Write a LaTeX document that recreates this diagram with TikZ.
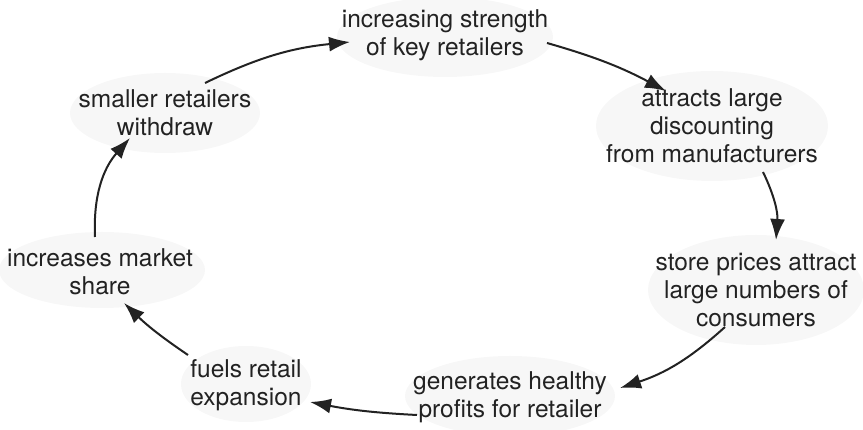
\documentclass[tikz,border=0pt]{standalone}
\usepackage{fontspec}
\setmainfont{TeX Gyre Heros}
\usetikzlibrary{arrows.meta,shapes.geometric}
\definecolor{inkgray}{HTML}{222222}
\definecolor{bubblegray}{HTML}{F7F7F7}
\tikzset{
  bubble/.style={ellipse, fill=bubblegray, draw=none, inner sep=0pt},
  label text/.style={align=center, inner sep=0pt, text=inkgray,
    font=\fontsize{24.5}{28}\selectfont},
  flow/.style={draw=inkgray, line width=2pt,
    -{Latex[length=21pt,width=15pt]}},
}
\begin{document}
\begin{tikzpicture}[x=1pt,y=1pt]
\useasboundingbox (0,0) rectangle (863,430);

% soft backgrounds behind each stage
\node[bubble, minimum width=216, minimum height=80]  (e1) at (445,393) {};
\node[bubble, minimum width=232, minimum height=110] (e2) at (712,304) {};
\node[bubble, minimum width=216, minimum height=110] (e3) at (756,140) {};
\node[bubble, minimum width=210, minimum height=80]  (e4) at (510,34) {};
\node[bubble, minimum width=130, minimum height=76]  (e5) at (246,46) {};
\node[bubble, minimum width=206, minimum height=76]  (e6) at (102,160) {};
\node[bubble, minimum width=190, minimum height=80]  (e7) at (165,317) {};

% stage texts
\node[label text] (t1) at (445,395) {increasing strength\\of key retailers};
\node[label text] (t2) at (712,304) {attracts large\\discounting\\from manufacturers};
\node[label text] (t3) at (756,140) {store prices attract\\large numbers of\\consumers};
\node[label text] (t4) at (510,33)  {generates healthy\\profits for retailer};
\node[label text] (t5) at (246,45)  {fuels retail\\expansion};
\node[label text] (t6) at (100,158) {increases market\\share};
\node[label text] (t7) at (165,317) {smaller retailers\\withdraw};

% the cycle, running clockwise
\draw[flow] ([shift={(40,30)}]t7.center)  to[bend left=10] ([shift={(-95,-7)}]t1.center);
\draw[flow] ([shift={(102,-8)}]t1.center) to[bend left=6]  ([shift={(-46,35)}]t2.center);
\draw[flow] ([shift={(51,-46)}]t2.center) to[bend left=15] ([shift={(20,50)}]t3.center);
\draw[flow] ([shift={(-31,-37)}]t3.center) to[bend left=12] ([shift={(110,9)}]t4.center);
\draw[flow] ([shift={(-93,-18)}]t4.center) to[bend left=4] ([shift={(64,-17)}]t5.center);
\draw[flow] ([shift={(-58,30)}]t5.center) to[bend left=5]  ([shift={(24,-31)}]t6.center);
\draw[flow] ([shift={(-5,35)}]t6.center)  to[bend left=22] ([shift={(-35,-25)}]t7.center);
\end{tikzpicture}
\end{document}
